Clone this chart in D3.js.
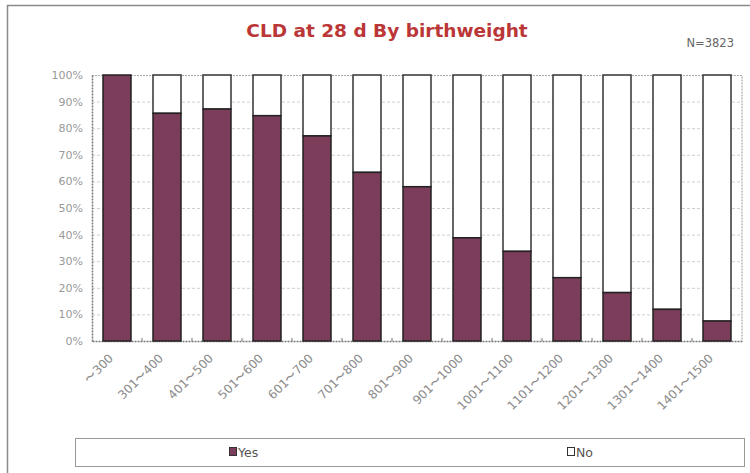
<!DOCTYPE html>
<html><head><meta charset="utf-8">
<script src="https://cdn.jsdelivr.net/npm/d3@7/dist/d3.min.js"></script>
<style>body{margin:0;background:#fff}svg{display:block}</style>
</head><body>
<script>
const categories = ["〜300","301〜400","401〜500","501〜600","601〜700","701〜800","801〜900","901〜1000","1001〜1100","1101〜1200","1201〜1300","1301〜1400","1401〜1500"];
const yesValues = [100, 85.6, 87.2, 84.7, 77.1, 63.4, 58.0, 38.8, 33.7, 23.8, 18.2, 11.9, 7.5];
const noValues = yesValues.map(v => 100 - v);
const seriesNames = ["Yes", "No"];
const yTicks = [0,10,20,30,40,50,60,70,80,90,100];
const titleText = "CLD at 28 d By birthweight";
const noteText = "N=3823";

(function () {
const W = 750, H = 473;
const svg = d3.select("body").append("svg").attr("width", W).attr("height", H);

// outer frame
svg.append("rect").attr("x", 7.5).attr("y", 5.5).attr("width", 780).attr("height", 500)
  .attr("fill", "none").attr("stroke", "#8a8a8a").attr("stroke-width", 1.5);

svg.append("text").attr("x", 387).attr("y", 37).attr("text-anchor", "middle")
  .attr("font-family", "DejaVu Sans").attr("font-weight", "bold").attr("font-size", 18.5)
  .attr("fill", "#bb3636").text(titleText);
svg.append("text").attr("x", 734).attr("y", 47).attr("text-anchor", "end")
  .attr("font-family", "DejaVu Sans").attr("font-size", 11.5)
  .attr("fill", "#666").text(noteText);

const pLeft = 92, pRight = 742, pTop = 75, pBottom = 341;
const x = d3.scaleBand().domain(categories).range([pLeft, pRight]).paddingInner(0.44).paddingOuter(0.22);
const y = d3.scaleLinear().domain([0, 100]).range([pBottom, pTop]);

// gridlines
svg.append("g").selectAll("line").data(yTicks.filter(t => t > 0 && t < 100)).join("line")
  .attr("x1", pLeft).attr("x2", pRight).attr("y1", d => y(d) + 0.5).attr("y2", d => y(d) + 0.5)
  .attr("stroke", "#cfcfcf").attr("stroke-width", 1).attr("stroke-dasharray", "3,2");

// plot frame top/right
svg.append("path").attr("d", `M${pLeft},${pTop + 0.5}H${pRight}V${pBottom}`)
  .attr("fill", "none").attr("stroke", "#aaa").attr("stroke-dasharray", "2,1").attr("stroke-width", 1.2);

// y axis
const yAxis = d3.axisLeft(y).tickValues(yTicks).tickFormat(d => d + "%").tickSize(0).tickPadding(9);
const ya = svg.append("g").attr("transform", `translate(${pLeft},0)`).call(yAxis);
ya.select(".domain").attr("stroke", "#777").attr("stroke-dasharray", "2,1").attr("stroke-width", 1.5);
ya.selectAll("text").attr("font-family", "DejaVu Sans").attr("font-size", 11).attr("fill", "#999");

// x axis
const xAxis = d3.axisBottom(x).tickSize(0).tickFormat("");
const xa = svg.append("g").attr("transform", `translate(0,${pBottom})`).call(xAxis);
xa.select(".domain").attr("stroke", "#777").attr("stroke-dasharray", "2,1").attr("stroke-width", 1.5);
svg.append("g").selectAll("line").data(categories.slice(1)).join("line")
  .attr("x1", d => x(d) - x.step() * 0.22).attr("x2", d => x(d) - x.step() * 0.22)
  .attr("y1", pBottom).attr("y2", pBottom - 3).attr("stroke", "#777");

svg.append("g").selectAll("text").data(categories).join("text")
  .attr("transform", d => `translate(${x(d) + x.bandwidth() / 2 - 3},${pBottom + 18}) rotate(-45)`)
  .attr("text-anchor", "end")
  .attr("font-family", "DejaVu Sans").attr("font-size", 12).attr("fill", "#8a8a8a")
  .text(d => d);

// bars
const stack = categories.map((c, i) => ({c, yes: yesValues[i], no: noValues[i]}));
svg.append("g").selectAll("rect").data(stack).join("rect")
  .attr("x", d => x(d.c)).attr("width", x.bandwidth())
  .attr("y", d => y(100)).attr("height", d => y(d.yes) - y(100))
  .attr("fill", "#fff").attr("stroke", "#333").attr("stroke-width", 1.5);
svg.append("g").selectAll("rect").data(stack).join("rect")
  .attr("x", d => x(d.c)).attr("width", x.bandwidth())
  .attr("y", d => y(d.yes)).attr("height", d => y(0) - y(d.yes))
  .attr("fill", "#7b3d5a").attr("stroke", "#222").attr("stroke-width", 1.5);

// legend
svg.append("rect").attr("x", 75.5).attr("y", 438.5).attr("width", 669).attr("height", 28)
  .attr("fill", "#fff").attr("stroke", "#999").attr("stroke-width", 1);
const legendX = [229, 567];
const legendFill = ["#7b3d5a", "#fff"];
seriesNames.forEach((s, i) => {
  svg.append("rect").attr("x", legendX[i] + 0.5).attr("y", 447.5).attr("width", 7).attr("height", 8)
    .attr("fill", legendFill[i]).attr("stroke", "#333").attr("stroke-width", 1);
  svg.append("text").attr("x", legendX[i] + 9).attr("y", 456.5)
    .attr("font-family", "DejaVu Sans").attr("font-size", 12.5).attr("fill", "#555").text(s);
});
})();
</script>
</body></html>
